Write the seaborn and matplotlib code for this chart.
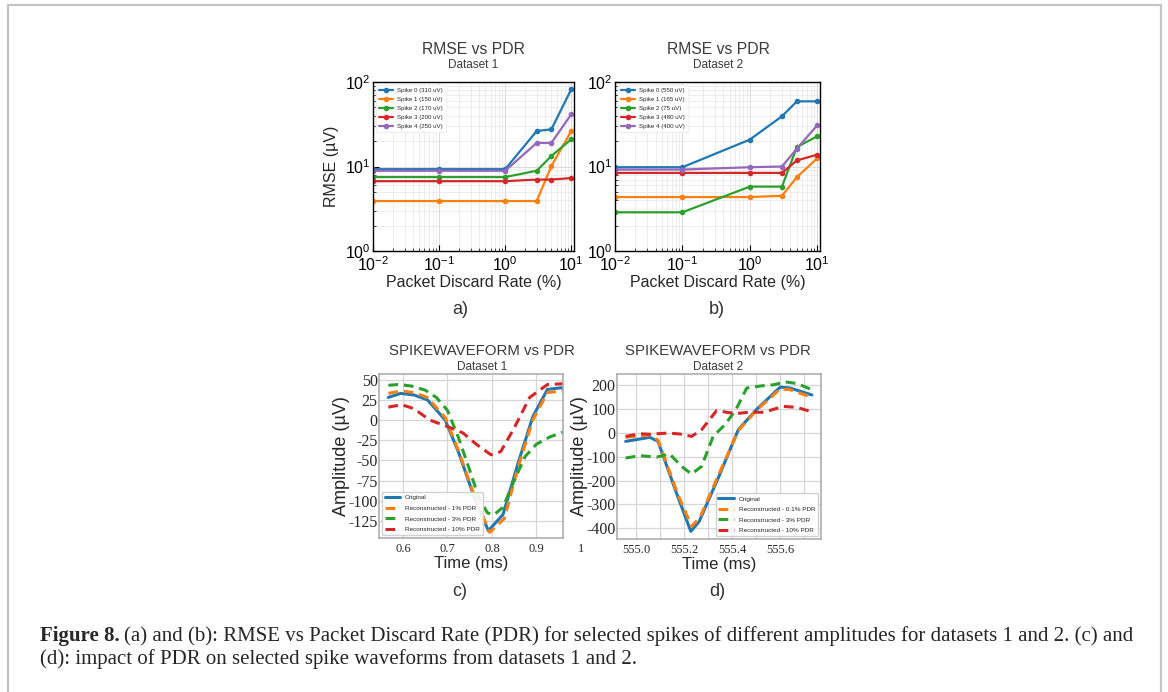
import numpy as np
import pandas as pd
import matplotlib
matplotlib.use('Agg')
import matplotlib.pyplot as plt
from matplotlib.ticker import MultipleLocator, FixedLocator, FormatStrFormatter
import seaborn as sns

W, H = 1168, 692

# ---- RMSE vs PDR data (panels a, b) ----
pdr = [0.01, 0.1, 1, 3, 5, 10]

d1_labels = ['Spike 0 (310 uV)', 'Spike 1 (150 uV)', 'Spike 2 (170 uV)',
             'Spike 3 (200 uV)', 'Spike 4 (250 uV)']
d1_spike0 = [9.3, 9.3, 9.3, 26.3, 27.5, 82]
d1_spike1 = [3.9, 3.9, 3.9, 3.9, 10.1, 26.3]
d1_spike2 = [7.5, 7.5, 7.5, 8.9, 13.3, 21]
d1_spike3 = [6.7, 6.7, 6.7, 7.0, 7.0, 7.3]
d1_spike4 = [8.9, 8.9, 8.9, 19, 19, 41.5]

d2_labels = ['Spike 0 (550 uV)', 'Spike 1 (165 uV)', 'Spike 2 (75 uV)',
             'Spike 3 (480 uV)', 'Spike 4 (400 uV)']
d2_spike0 = [9.8, 9.8, 20.8, 39.3, 59, 59]
d2_spike1 = [4.35, 4.35, 4.35, 4.5, 7.5, 12.5]
d2_spike2 = [2.87, 2.87, 5.78, 5.78, 17, 22.8]
d2_spike3 = [8.4, 8.4, 8.4, 8.4, 11.8, 13.8]
d2_spike4 = [9.2, 9.2, 9.8, 10, 16.3, 30.7]

# ---- spike waveform data (panels c, d) ----
c_labels = ['Original', 'Reconstructed - 1% PDR', 'Reconstructed - 3% PDR',
            'Reconstructed - 10% PDR']
c_orig_t = [0.567, 0.595, 0.625, 0.655, 0.695, 0.725, 0.760, 0.792, 0.825, 0.858, 0.892, 0.925, 0.957, 0.965]
c_orig = [28, 33, 31, 25, 0, -40, -95, -137, -117, -55, 4, 38, 40, 37]
c_pdr1_t = [0.567, 0.595, 0.625, 0.655, 0.695, 0.725, 0.760, 0.795, 0.828, 0.858, 0.892, 0.925, 0.957, 0.965]
c_pdr1 = [33, 36, 34, 28, 3, -38, -93, -139, -122, -60, 0, 34, 36, 35]
c_pdr3_t = [0.567, 0.59, 0.62, 0.65, 0.675, 0.70, 0.725, 0.75, 0.77, 0.79, 0.805, 0.825, 0.85, 0.875, 0.90, 0.93, 0.965]
c_pdr3 = [43, 44, 42, 37, 28, 12, -22, -62, -95, -115, -117, -108, -75, -45, -30, -21, -14]
c_pdr10_t = [0.567, 0.597, 0.625, 0.66, 0.70, 0.735, 0.765, 0.798, 0.82, 0.85, 0.885, 0.925, 0.965]
c_pdr10 = [16, 19, 14, 0, -8, -16, -30, -43, -39, -10, 28, 44, 45]

d_labels = ['Original', 'Reconstructed - 0.1% PDR', 'Reconstructed - 3% PDR',
            'Reconstructed - 10% PDR']
d_orig_t = [554.955, 555.056, 555.09, 555.17, 555.227, 555.262, 555.345, 555.425, 555.50, 555.60, 555.641, 555.732]
d_orig = [-35, -18, -35, -260, -413, -371, -180, 14, 98, 193, 189, 160]
d_pdr01_t = [554.955, 555.056, 555.09, 555.17, 555.23, 555.265, 555.345, 555.425, 555.50, 555.60, 555.641, 555.732]
d_pdr01 = [-18, -8, -30, -250, -392, -355, -170, 10, 95, 185, 182, 150]
d_pdr3_t = [554.955, 555.014, 555.084, 555.139, 555.188, 555.23, 555.272, 555.32, 555.369, 555.415, 555.46, 555.52, 555.575, 555.62, 555.67, 555.725]
d_pdr3 = [-105, -95, -101, -88, -140, -172, -140, -14, 35, 98, 189, 198, 203, 215, 208, 185]
d_pdr10_t = [554.955, 555.014, 555.056, 555.132, 555.181, 555.23, 555.272, 555.335, 555.377, 555.418, 555.474, 555.53, 555.613, 555.669, 555.725]
d_pdr10 = [-14, -3, -5, 0, -4, -14, 14, 95, 87, 82, 88, 87, 112, 108, 91]

colors = sns.color_palette('tab10', 5)

sns.set_theme(style='whitegrid')
plt.rcParams['font.family'] = ['Liberation Sans', 'DejaVu Sans']
plt.rcParams['mathtext.fontset'] = 'cm'
plt.rcParams['axes.unicode_minus'] = False


def box(l, t, r, b):
    return [l / W, 1 - b / H, (r - l) / W, (b - t) / H]


def ftext(x, y, s, **kw):
    fig.text(x / W, 1 - y / H, s, **kw)


def rmse_frame(labels, series):
    rows = []
    for lab, vals in zip(labels, series):
        for p, v in zip(pdr, vals):
            rows.append({'pdr': p, 'rmse': v, 'spike': lab})
    return pd.DataFrame(rows)


def wave_frame(labels, ts, vs):
    rows = []
    for lab, t, v in zip(labels, ts, vs):
        for a, b in zip(t, v):
            rows.append({'time': a, 'amp': b, 'series': lab})
    return pd.DataFrame(rows)


def rmse_panel(ax, df, labels):
    sns.lineplot(data=df, x='pdr', y='rmse', hue='spike', style='spike',
                 hue_order=labels, style_order=labels, palette=colors,
                 markers=['o'] * 5, dashes=False, markersize=4,
                 markeredgewidth=0, linewidth=1.6, estimator=None, ax=ax)
    ax.set_xscale('log')
    ax.set_yscale('log')
    ax.set_xlim(0.01, 11)
    ax.set_ylim(1, 100)
    ax.grid(True, which='major', color='#d9d9d9', linewidth=0.7)
    ax.grid(True, which='minor', color='#e6e6e6', linewidth=0.5)
    for s in ax.spines.values():
        s.set_color('black')
        s.set_linewidth(1.0)
    ax.tick_params(which='both', direction='in', colors='black', labelsize=11.5,
                   pad=2)
    ax.tick_params(axis='x', which='both', pad=3)
    ax.tick_params(which='major', length=4, width=0.8, bottom=True, left=True)
    ax.tick_params(which='minor', length=2, width=0.5, bottom=True, left=True)
    ax.set_xlabel('Packet Discard Rate (%)', fontsize=11.5, labelpad=1)
    sns.move_legend(ax, 'upper left', title=None, fontsize=4.4, frameon=True,
                    framealpha=1, edgecolor='#f0f0f0', fancybox=False,
                    handlelength=2.2, labelspacing=0.6, borderpad=0.5)


def wave_panel(ax, df, labels):
    sns.lineplot(data=df, x='time', y='amp', hue='series', style='series',
                 hue_order=labels, style_order=labels, palette=colors[:4],
                 dashes=['', (3.2, 1.9), (3.2, 1.9), (3.2, 1.9)],
                 linewidth=2.2, estimator=None, ax=ax)
    ax.grid(True, color='#d6d6d6', linewidth=0.9)
    for s in ax.spines.values():
        s.set_color('#a8a8a8')
        s.set_linewidth(1.1)
    ax.tick_params(axis='y', labelsize=11.5, length=0, pad=1)
    ax.tick_params(axis='x', labelsize=9, length=0, pad=3.5)
    ax.set_xlabel('Time (ms)', fontsize=12, labelpad=1)
    ax.set_ylabel('Amplitude (\u00b5V)', fontsize=13, labelpad=-1)


fig = plt.figure(figsize=(W / 100, H / 100), dpi=100)

# panel a
ax_a = fig.add_axes(box(373, 82, 574, 251))
rmse_panel(ax_a, rmse_frame(d1_labels, [d1_spike0, d1_spike1, d1_spike2, d1_spike3, d1_spike4]), d1_labels)
ax_a.set_ylabel('RMSE (\u00b5V)', fontsize=11.5, labelpad=4)

# panel b
ax_b = fig.add_axes(box(615, 82, 820, 251))
rmse_panel(ax_b, rmse_frame(d2_labels, [d2_spike0, d2_spike1, d2_spike2, d2_spike3, d2_spike4]), d2_labels)
ax_b.set_ylabel('')

# panel c
ax_c = fig.add_axes(box(379, 374, 563, 538))
wave_panel(ax_c, wave_frame(c_labels, [c_orig_t, c_pdr1_t, c_pdr3_t, c_pdr10_t],
                            [c_orig, c_pdr1, c_pdr3, c_pdr10]), c_labels)
ax_c.set_xlim(0.546, 0.96)
ax_c.set_ylim(-146, 57)
ax_c.yaxis.set_major_locator(MultipleLocator(25))
ax_c.xaxis.set_major_locator(FixedLocator([0.6, 0.7, 0.8, 0.9]))
ax_c.xaxis.set_major_formatter(FormatStrFormatter('%.1f'))
# the '1' label sits just outside the cropped right edge
ax_c.text(1.0, -4.5 / 164, '1', transform=ax_c.get_xaxis_transform(), ha='center',
          va='top', fontsize=9, family='Liberation Serif', color='#262626',
          clip_on=False)
sns.move_legend(ax_c, 'lower left', title=None, fontsize=4.6, frameon=True,
                framealpha=0.9, handlelength=2.4, labelspacing=0.8,
                borderpad=0.4, bbox_to_anchor=(0.0, 0.0))

# panel d
ax_d = fig.add_axes(box(617, 374, 821, 539))
wave_panel(ax_d, wave_frame(d_labels, [d_orig_t, d_pdr01_t, d_pdr3_t, d_pdr10_t],
                            [d_orig, d_pdr01, d_pdr3, d_pdr10]), d_labels)
ax_d.set_xlim(554.919, 555.77)
ax_d.set_ylim(-445, 248)
ax_d.yaxis.set_major_locator(MultipleLocator(100))
ax_d.xaxis.set_major_locator(FixedLocator([555.0, 555.2, 555.4, 555.6]))
ax_d.xaxis.set_minor_locator(FixedLocator([555.1, 555.3, 555.5, 555.7]))
ax_d.xaxis.set_major_formatter(FormatStrFormatter('%.1f'))
ax_d.grid(True, which='minor', axis='x', color='#d6d6d6', linewidth=0.9)
sns.move_legend(ax_d, 'lower right', title=None, fontsize=4.6, frameon=True,
                framealpha=0.9, handlelength=2.4, labelspacing=0.8,
                borderpad=0.4)

for ax in (ax_c, ax_d):
    for lab in ax.get_yticklabels() + ax.get_xticklabels():
        lab.set_family('Liberation Serif')

# titles and panel letters
tcol = '#3a3a3a'
ftext(473, 49, 'RMSE vs PDR', ha='center', va='center', fontsize=11.3, color=tcol)
ftext(473, 65, 'Dataset 1', ha='center', va='center', fontsize=8.5, color=tcol)
ftext(718, 49, 'RMSE vs PDR', ha='center', va='center', fontsize=11.3, color=tcol)
ftext(718, 65, 'Dataset 2', ha='center', va='center', fontsize=8.5, color=tcol)
ftext(482, 351, 'SPIKEWAVEFORM vs PDR', ha='center', va='center', fontsize=10.8, color=tcol)
ftext(482, 367, 'Dataset 1', ha='center', va='center', fontsize=8.5, color=tcol)
ftext(718, 351, 'SPIKEWAVEFORM vs PDR', ha='center', va='center', fontsize=10.8, color=tcol)
ftext(718, 367, 'Dataset 2', ha='center', va='center', fontsize=8.5, color=tcol)
ftext(460, 309, 'a)', ha='center', va='center', fontsize=13, color='#333333')
ftext(717, 309, 'b)', ha='center', va='center', fontsize=13, color='#333333')
ftext(460, 592, 'c)', ha='center', va='center', fontsize=13, color='#333333')
ftext(717, 592, 'd)', ha='center', va='center', fontsize=13, color='#333333')

# caption
cap_size = 15
cap_bold = fig.text(40 / W, 1 - 641 / H, 'Figure 8.', fontsize=cap_size, weight='bold',
                    family='Liberation Serif', va='baseline')
fig.canvas.draw()
bb = cap_bold.get_window_extent()
fig.text((bb.x1 + 4) / W, 1 - 641 / H,
         '(a) and (b): RMSE vs Packet Discard Rate (PDR) for selected spikes of different '
         'amplitudes for datasets 1 and 2. (c) and',
         fontsize=cap_size, family='Liberation Serif', va='baseline')
fig.text(40 / W, 1 - 664 / H,
         '(d): impact of PDR on selected spike waveforms from datasets 1 and 2.',
         fontsize=cap_size, family='Liberation Serif', va='baseline')

# page frame
frame_col = '#c4c4c4'
fig.add_artist(plt.Line2D([8 / W, 8 / W], [0, 1 - 5 / H], color=frame_col, lw=1.6))
fig.add_artist(plt.Line2D([8 / W, 1161 / W], [1 - 5 / H, 1 - 5 / H], color=frame_col, lw=1.6))
fig.add_artist(plt.Line2D([1161 / W, 1161 / W], [0, 1 - 5 / H], color=frame_col, lw=1.6))

fig.savefig('out.png', dpi=100)
